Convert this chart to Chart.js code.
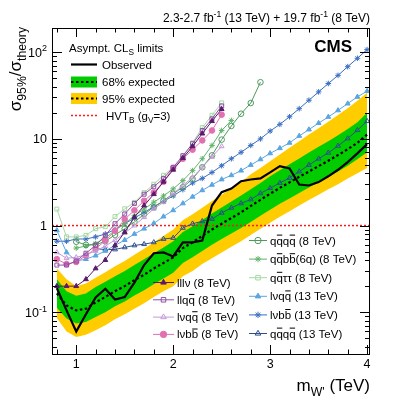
<!DOCTYPE html>
<html>
<head>
<meta charset="utf-8">
<script src="https://cdn.jsdelivr.net/npm/chart.js@4/dist/chart.umd.min.js"></script>
<style>
  html, body { margin: 0; padding: 0; background: #fff; }
  canvas { display: block; }
</style>
</head>
<body>
<canvas id="limits" width="399" height="403"></canvas>
<script>
// W' mass grid (TeV) for the combined limit and the bands
const mass = [0.8, 0.9, 1.0, 1.1, 1.2, 1.3, 1.4, 1.5, 1.6, 1.7, 1.8, 1.9, 2.0, 2.1, 2.2, 2.3, 2.4,
              2.5, 2.6, 2.7, 2.8, 2.9, 3.0, 3.1, 3.2, 3.3, 3.4, 3.5, 3.6, 3.7, 3.8, 3.9, 4.0];

const observed = [0.19, 0.105, 0.06, 0.095, 0.148, 0.187, 0.14, 0.15, 0.22, 0.35, 0.48, 0.49, 0.44,
                  0.64, 0.64, 0.67, 1.7, 2.43, 2.67, 3.25, 3.4, 3.5, 4.1, 4.85, 4.55, 2.97, 2.9,
                  3.17, 3.7, 4.4, 5.4, 6.8, 8.7];
const expected = [0.165, 0.12, 0.105, 0.11, 0.13, 0.15, 0.175, 0.20, 0.235, 0.27, 0.32, 0.37, 0.43,
                  0.55, 0.64, 0.76, 0.90, 1.05, 1.22, 1.42, 1.68, 1.98, 2.33, 2.72, 3.15, 3.65, 4.2,
                  4.85, 5.6, 6.5, 7.6, 9.0, 11.2];
const band68Up = [0.24, 0.175, 0.155, 0.165, 0.195, 0.225, 0.26, 0.30, 0.35, 0.41, 0.48, 0.56, 0.66,
                  0.84, 0.98, 1.16, 1.38, 1.62, 1.9, 2.22, 2.62, 3.1, 3.7, 4.35, 5.1, 5.95, 6.95,
                  8.1, 9.4, 11.0, 13.0, 15.5, 20.0];
const band68Dn = [0.113, 0.085, 0.074, 0.077, 0.088, 0.10, 0.117, 0.133, 0.156, 0.18, 0.21, 0.245, 0.285,
                  0.37, 0.43, 0.51, 0.60, 0.70, 0.81, 0.94, 1.1, 1.3, 1.52, 1.78, 2.05, 2.38, 2.75,
                  3.15, 3.65, 4.2, 4.9, 5.8, 7.0];
const band95Up = [0.32, 0.24, 0.20, 0.215, 0.25, 0.29, 0.34, 0.39, 0.46, 0.54, 0.64, 0.76, 0.90,
                  1.15, 1.35, 1.6, 1.92, 2.27, 2.68, 3.15, 3.9, 4.6, 5.5, 6.6, 7.9, 9.4, 11.2,
                  13.3, 15.8, 18.8, 22.5, 27.5, 34];
const band95Dn = [0.086, 0.06, 0.052, 0.055, 0.062, 0.071, 0.083, 0.095, 0.11, 0.127, 0.15, 0.175, 0.2,
                  0.26, 0.30, 0.36, 0.42, 0.49, 0.57, 0.66, 0.78, 0.92, 1.08, 1.26, 1.46, 1.7, 1.97,
                  2.27, 2.62, 3.0, 3.5, 4.0, 4.6];

// HVT model B line
const hvtMass = [0.75, 4.03];
const hvtLimit = [1, 1];

// individual channels
const mass8lep = [0.8, 0.9, 1.0, 1.1, 1.2, 1.3, 1.4, 1.5, 1.6, 1.7, 1.8, 1.9, 2.0, 2.1, 2.2, 2.3, 2.4, 2.5];
const lllv8  = [0.2, 0.2, 0.2, 0.24, 0.32, 0.40, 0.59, 0.84, 1.25, 1.7, 2.3, 3.2, 4.4, 6.0, 8.2, 11.5, 16, 22];
const llqq8  = [0.35, 0.35, 0.39, 0.48, 0.59, 0.77, 1.05, 1.36, 1.8, 2.3, 2.8, 3.5, 4.7, 6.4, 8.8, 12.5, 17, 24];
const lvqq8  = [0.49, 0.42, 0.43, 0.46, 0.51, 0.58, 0.68, 0.82, 1.0, 1.25, 1.56, 1.86, 2.33, 2.9, 3.6, 4.7, 6.2, 8.2];
const lvbb8  = [0.41, 0.36, 0.38, 0.45, 0.54, 0.67, 0.87, 1.18, 1.5, 1.93, 2.4, 3.2, 4.6, 5.9, 7.5, 9.6, 12.5, 19];
const qqtt8  = [1.55, 0.74, 0.74, 0.77, 0.92, 0.97, 1.27, 1.56, 1.85, 2.4, 3.0, 3.8, 4.7, 6.2, 9.0, 13.5, 18.7, 26];
const massQqqq8 = [1.0, 1.1, 1.2, 1.3, 1.4, 1.5, 1.6, 1.7, 1.8, 1.9, 2.0, 2.1, 2.2, 2.3, 2.4, 2.5, 2.6, 2.7, 2.8, 2.9];
const qqqq8  = [0.65, 0.60, 0.60, 0.66, 0.78, 0.92, 1.1, 1.35, 1.63, 1.94, 2.33, 2.77, 3.46, 4.7, 6.45, 9.8, 14.1, 19.5, 25.9, 45];
const massQqbb8 = [1.0, 1.1, 1.2, 1.3, 1.4, 1.5, 1.6, 1.7, 1.8, 1.9, 2.0, 2.1, 2.2, 2.3, 2.4, 2.5, 2.6];
const qqbb8  = [0.55, 0.58, 0.62, 0.72, 0.88, 1.05, 1.3, 1.55, 1.86, 2.2, 2.65, 3.3, 4.3, 5.9, 8.4, 12.5, 16.3];
const lvqq13 = [0.88, 0.49, 0.39, 0.41, 0.45, 0.51, 0.59, 0.68, 0.80, 0.92, 1.06, 1.27, 1.5,
                1.8, 2.15, 2.55, 2.95, 3.4, 3.8, 4.3, 5.0, 5.8, 6.8, 7.8, 9.0, 10.8, 12.8, 15.2,
                17.9, 21.3, 25.5, 30.5, 35.5];
const lvbb13 = [0.66, 0.66, 0.70, 0.70, 0.74, 0.80, 0.90, 1.05, 1.22, 1.42, 1.65, 1.9, 2.2,
                2.6, 3.1, 3.5, 4.1, 4.9, 5.9, 7.0, 8.4, 10.0, 12.3, 14.7, 18.0, 22.3, 27.9, 34.8,
                43.5, 54, 68, 85, 107];
const massQqqq13 = [1.2, 1.3, 1.4, 1.5, 1.6, 1.7, 1.8, 1.9, 2.0, 2.1, 2.2, 2.3, 2.4, 2.5, 2.6, 2.7,
                    2.8, 2.9, 3.0, 3.1, 3.2, 3.3, 3.4, 3.5, 3.6, 3.7, 3.8, 3.9, 4.0];
const qqqq13 = [0.54, 0.53, 0.53, 0.56, 0.59, 0.61, 0.64, 0.70, 0.72, 0.94, 1.05, 1.12, 1.19,
                1.4, 1.6, 1.8, 2.0, 2.35, 2.7, 3.1, 3.55, 4.2, 5.0, 5.9, 6.9, 8.3, 10.1, 12.6, 16];

const xTicks = [1, 2, 3, 4];
const xTickLabels = ['1', '2', '3', '4'];
const yTicks = [0.1, 1, 10, 100];

const FONT = '"Liberation Sans", Arial, Helvetica, sans-serif';
const sub = t => ({ t, sub: true });
const sup = t => ({ t, sup: true });
const bar = t => ({ t, bar: true });

const yTickLabels = [['10', sup('-1')], ['1'], ['10'], ['10', sup('2')]];

const signals = [
  { x: mass8lep, y: lllv8, color: '#5a1a6c', style: 'triangle', filled: true, text: ['lllν (8 TeV)'] },
  { x: mass8lep, y: llqq8, color: '#9150a6', style: 'rect', filled: false, text: ['llq', bar('q'), ' (8 TeV)'] },
  { x: mass8lep, y: lvqq8, color: '#c39ad8', style: 'triangle', filled: false, text: ['lνq', bar('q'), ' (8 TeV)'] },
  { x: mass8lep, y: lvbb8, color: '#e070b0', style: 'circle', filled: true, text: ['lνb', bar('b'), ' (8 TeV)'] },
  { x: massQqqq8, y: qqqq8, color: '#4e9a5c', style: 'circle', filled: false, text: ['q', bar('q'), 'q', bar('q'), ' (8 TeV)'] },
  { x: massQqbb8, y: qqbb8, color: '#62b46a', style: 'star', filled: false, text: ['q', bar('q'), 'b', bar('b'), '(6q) (8 TeV)'] },
  { x: mass8lep, y: qqtt8, color: '#a6d8a2', style: 'rect', filled: false, text: ['q', bar('q'), 'ττ (8 TeV)'] },
  { x: mass, y: lvqq13, color: '#5aa6e0', style: 'triangle', filled: true, text: ['lνq', bar('q'), ' (13 TeV)'] },
  { x: mass, y: lvbb13, color: '#3a6fc2', style: 'star', filled: true, text: ['lνb', bar('b'), ' (13 TeV)'] },
  { x: massQqqq13, y: qqqq13, color: '#2d4f8c', style: 'triangle', filled: false, text: ['q', bar('q'), 'q', bar('q'), ' (13 TeV)'] }
];
const legendLeft = [0, 1, 2, 3];
const legendRight = [4, 5, 6, 7, 8, 9];

const pts = (xs, ys) => xs.map((x, i) => ({ x, y: ys[i] }));

function band(data, color, fillTo, order) {
  return { data, borderWidth: 0, pointRadius: 0, backgroundColor: color, fill: fillTo, order };
}

const datasets = [
  band(pts(mass, band95Dn), '#ffcc00', false, 20),
  band(pts(mass, band95Up), '#ffcc00', 0, 20),
  band(pts(mass, band68Dn), '#00cc00', false, 19),
  band(pts(mass, band68Up), '#00cc00', 2, 19),
  { data: pts(hvtMass, hvtLimit), borderColor: '#ff1a1a', borderWidth: 1.5, borderDash: [2, 2], pointRadius: 0, order: 12 },
  { data: pts(mass, expected), borderColor: '#000', borderWidth: 2.2, borderDash: [2.5, 2.5], pointRadius: 0, order: 11 }
];
signals.forEach(s => datasets.push({
  data: pts(s.x, s.y),
  borderColor: s.color,
  borderWidth: 1,
  pointStyle: s.style,
  pointRadius: 2.8,
  pointBorderWidth: 1,
  pointBorderColor: s.color,
  pointBackgroundColor: s.filled ? s.color : 'rgba(0,0,0,0)',
  order: 5
}));
datasets.push({ data: pts(mass, observed), borderColor: '#000', borderWidth: 2.2, pointRadius: 0, order: 1 });

function drawRich(ctx, segs, x, y, size, align) {
  const parts = segs.map(s => typeof s === 'string' ? { t: s } : Object.assign({}, s));
  let total = 0;
  parts.forEach(p => {
    p.size = (p.sub || p.sup) ? size * 0.72 : size;
    ctx.font = p.size + 'px ' + FONT;
    p.w = ctx.measureText(p.t).width;
    total += p.w;
  });
  let cx = align === 'right' ? x - total : align === 'center' ? x - total / 2 : x;
  ctx.textAlign = 'left';
  ctx.textBaseline = 'alphabetic';
  parts.forEach(p => {
    ctx.font = p.size + 'px ' + FONT;
    const dy = p.sub ? size * 0.3 : p.sup ? -size * 0.42 : 0;
    ctx.fillText(p.t, cx, y + dy);
    if (p.bar) ctx.fillRect(cx + 0.5, y - size * 0.86, p.w - 1, 1);
    cx += p.w;
  });
  return total;
}

function drawMarker(ctx, style, r, x, y, filled) {
  ctx.beginPath();
  if (style === 'circle') {
    ctx.arc(x, y, r, 0, Math.PI * 2);
  } else if (style === 'rect') {
    const s = r * Math.SQRT1_2;
    ctx.rect(x - s, y - s, 2 * s, 2 * s);
  } else if (style === 'triangle') {
    const side = 3 * r / Math.sqrt(3), h = side * Math.sqrt(3) / 2;
    ctx.moveTo(x - side / 2, y + h / 3);
    ctx.lineTo(x + side / 2, y + h / 3);
    ctx.lineTo(x, y - 2 * h / 3);
    ctx.closePath();
  } else if (style === 'star') {
    for (let k = 0; k < 4; k++) {
      const a = k * Math.PI / 4;
      ctx.moveTo(x - r * Math.cos(a), y - r * Math.sin(a));
      ctx.lineTo(x + r * Math.cos(a), y + r * Math.sin(a));
    }
  }
  if (filled && style !== 'star') ctx.fill();
  ctx.stroke();
}

const decorations = {
  id: 'decorations',
  afterDraw(chart) {
    const { ctx, chartArea: a, scales: { x, y } } = chart;
    ctx.save();
    ctx.strokeStyle = '#000';
    ctx.fillStyle = '#000';
    ctx.lineWidth = 1;

    // frame
    ctx.strokeRect(a.left + 0.5, a.top + 0.5, a.right - a.left - 1, a.bottom - a.top);

    // x ticks, inside on bottom and top
    ctx.beginPath();
    for (let i = 4; i <= 20; i++) {
      const v = i / 5;
      const px = Math.round(x.getPixelForValue(v)) + 0.5;
      const len = Number.isInteger(v) ? 9 : 4.5;
      ctx.moveTo(px, a.bottom); ctx.lineTo(px, a.bottom - len);
      ctx.moveTo(px, a.top); ctx.lineTo(px, a.top + len);
    }
    // y ticks, inside on left and right
    for (let d = -2; d <= 2; d++) {
      for (let k = 1; k <= 9; k++) {
        const v = k * Math.pow(10, d);
        if (v < y.min || v > y.max) continue;
        const py = Math.round(y.getPixelForValue(v)) + 0.5;
        const len = k === 1 ? 10 : 5;
        ctx.moveTo(a.left, py); ctx.lineTo(a.left + len, py);
        ctx.moveTo(a.right, py); ctx.lineTo(a.right - len, py);
      }
    }
    ctx.stroke();

    // tick labels
    xTicks.forEach((v, i) => drawRich(ctx, [xTickLabels[i]], x.getPixelForValue(v), a.bottom + 14, 12.5, 'center'));
    yTicks.forEach((v, i) => drawRich(ctx, yTickLabels[i], a.left - 5, y.getPixelForValue(v) + 4.5, 12.5, 'right'));

    // axis titles
    drawRich(ctx, ['m', sub("W'"), ' (TeV)'], a.right, 391, 17, 'right');
    ctx.save();
    ctx.translate(21, a.top - 1);
    ctx.rotate(-Math.PI / 2);
    drawRich(ctx, ['σ', sub('95%'), '/σ', sub('theory')], 0, 0, 17, 'right');
    ctx.restore();

    // header and CMS label
    drawRich(ctx, ['2.3-2.7 fb', sup('-1'), ' (13 TeV) + 19.7 fb', sup('-1'), ' (8 TeV)'], a.right, 22, 12, 'right');
    ctx.font = 'bold 17px ' + FONT;
    ctx.textAlign = 'right';
    ctx.fillText('CMS', 352, 52);

    // legend for the combined limit
    const fs = 11.5;
    drawRich(ctx, ['Asympt. CL', sub('S'), ' limits'], 69, 52, fs);
    ctx.lineWidth = 2.2;
    ctx.beginPath(); ctx.moveTo(71, 64.5); ctx.lineTo(97, 64.5); ctx.stroke();
    drawRich(ctx, ['Observed'], 102, 68.5, fs);
    [[82, '#00cc00', '68% expected'], [98.5, '#ffcc00', '95% expected']].forEach(([cy, col, txt]) => {
      ctx.fillStyle = col;
      ctx.fillRect(71, cy - 5.5, 26, 11);
      ctx.setLineDash([2.5, 2.5]);
      ctx.beginPath(); ctx.moveTo(71, cy); ctx.lineTo(97, cy); ctx.stroke();
      ctx.setLineDash([]);
      ctx.fillStyle = '#000';
      drawRich(ctx, [txt], 102, cy + 4, fs);
    });
    ctx.lineWidth = 1.5;
    ctx.strokeStyle = '#ff1a1a';
    ctx.setLineDash([2, 2]);
    ctx.beginPath(); ctx.moveTo(71, 115.5); ctx.lineTo(97, 115.5); ctx.stroke();
    ctx.setLineDash([]);
    ctx.fillStyle = '#000';
    drawRich(ctx, ['HVT', sub('B'), ' (g', sub('V'), '=3)'], 106, 119.5, fs);

    // legend for the channels
    const entry = (s, x0, x1, cy, tx) => {
      ctx.strokeStyle = s.color;
      ctx.fillStyle = s.color;
      ctx.lineWidth = 1;
      ctx.beginPath(); ctx.moveTo(x0, cy); ctx.lineTo(x1, cy); ctx.stroke();
      drawMarker(ctx, s.style, 3.2, (x0 + x1) / 2, cy, s.filled);
      ctx.fillStyle = '#000';
      drawRich(ctx, s.text, tx, cy + 4, fs);
    };
    legendLeft.forEach((idx, r) => entry(signals[idx], 153, 174, 282.5 + r * 17.3, 177));
    legendRight.forEach((idx, r) => entry(signals[idx], 249, 267, 240.5 + r * 18.6, 270));
    ctx.restore();
  }
};

new Chart(document.getElementById('limits'), {
  type: 'line',
  data: { datasets },
  options: {
    responsive: false,
    animation: false,
    events: [],
    devicePixelRatio: 1,
    layout: { padding: { left: 52, top: 28, right: 29, bottom: 49 } },
    elements: { line: { tension: 0 } },
    plugins: { legend: { display: false }, tooltip: { enabled: false } },
    scales: {
      x: { type: 'linear', min: 0.75, max: 4.03, display: false },
      y: { type: 'logarithmic', min: 0.033, max: 190, display: false }
    }
  },
  plugins: [decorations]
});
</script>
</body>
</html>
